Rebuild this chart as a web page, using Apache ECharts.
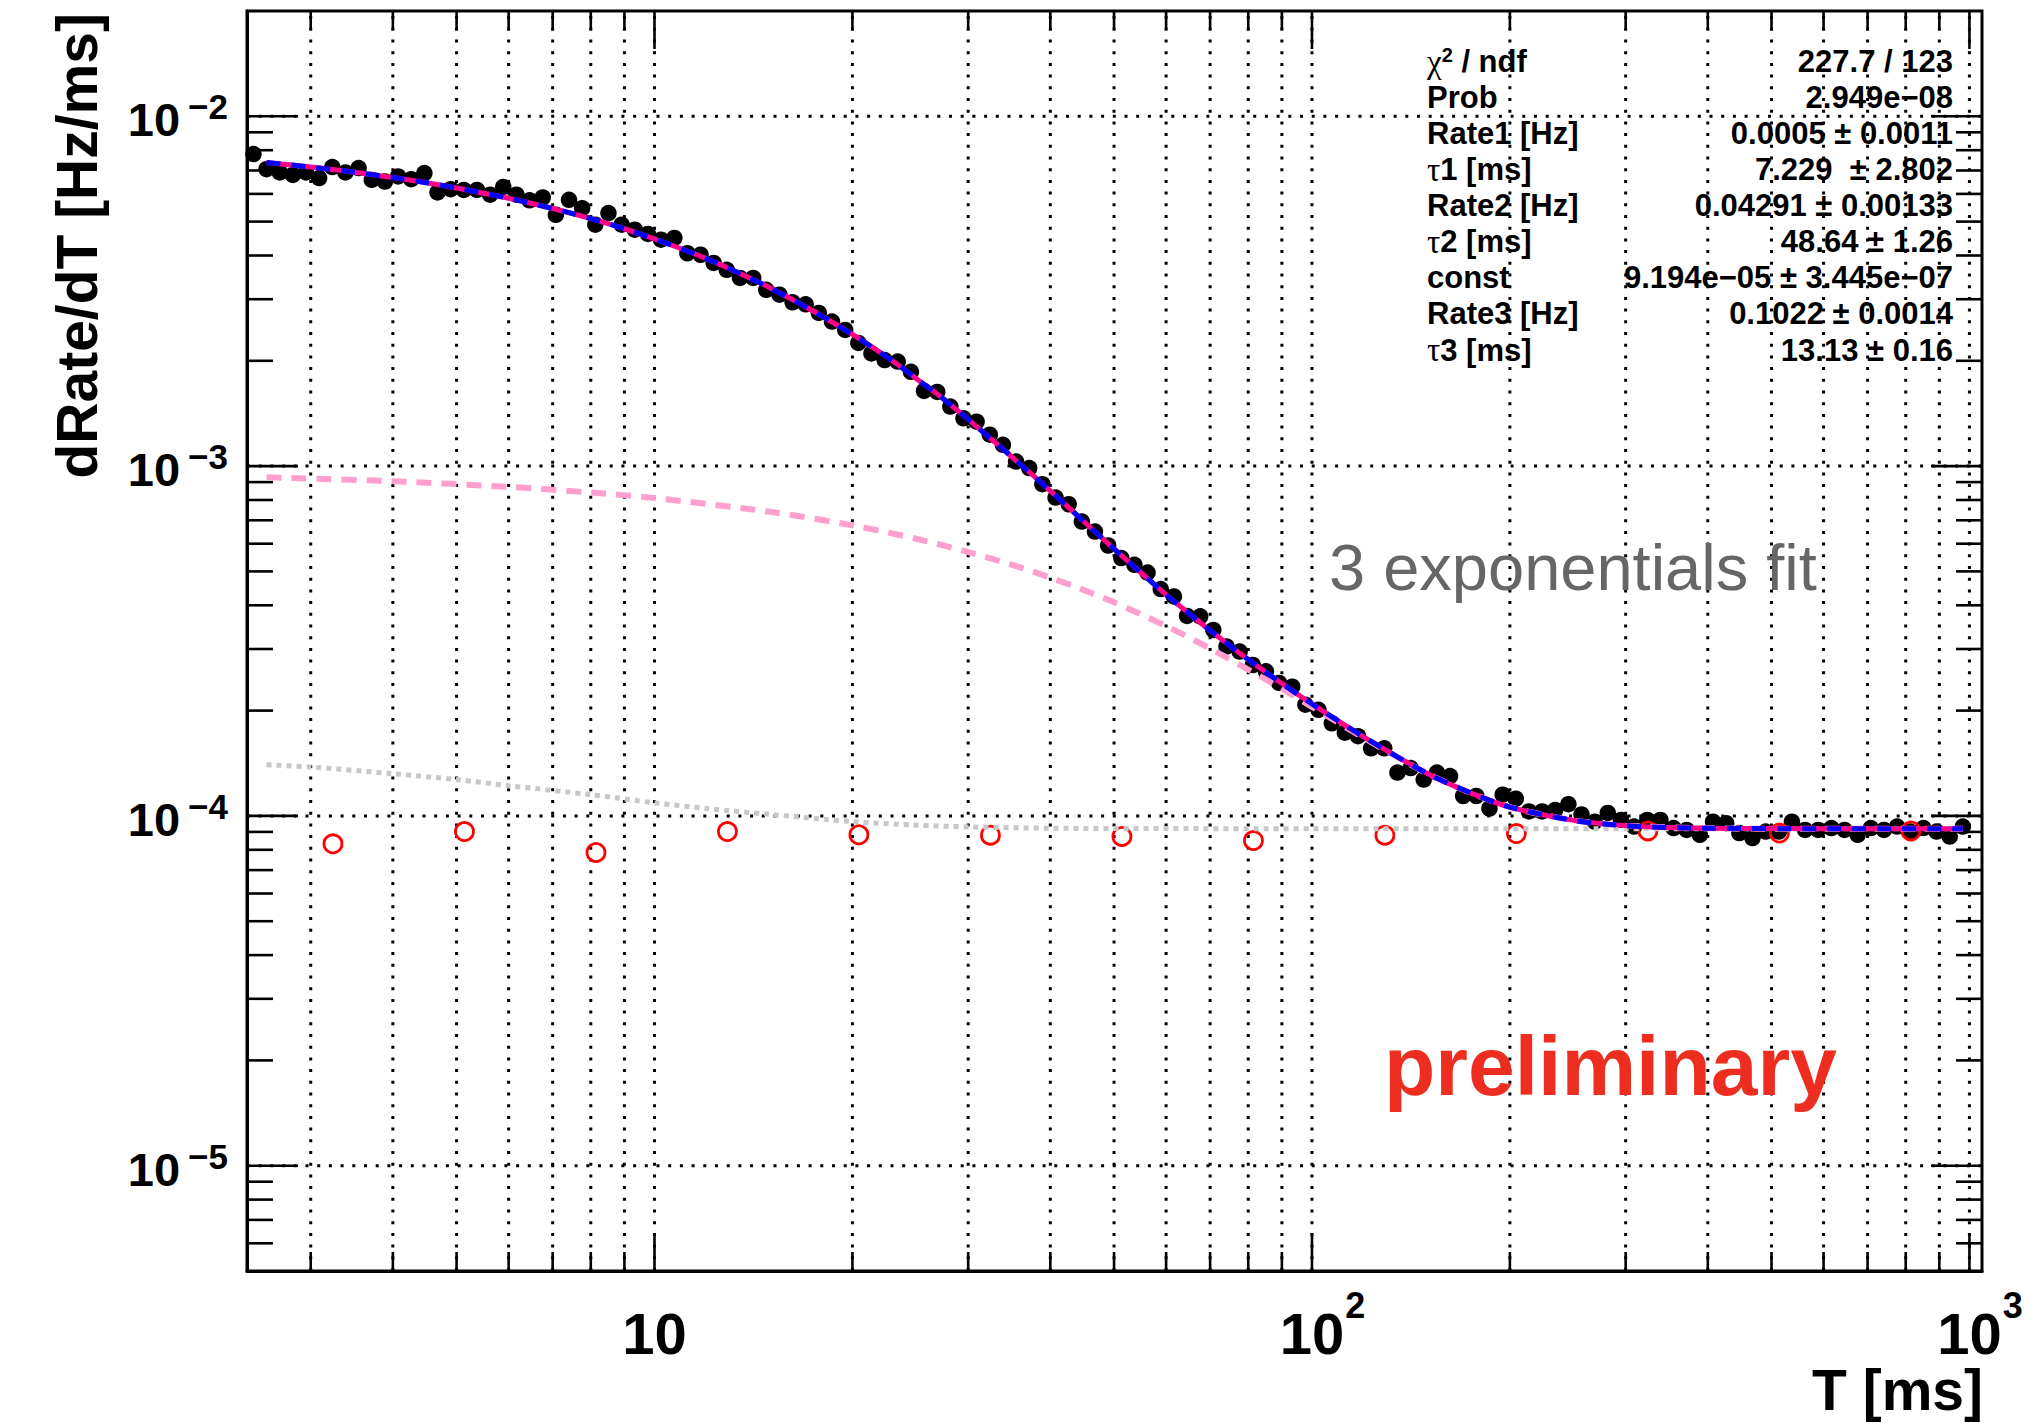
<!DOCTYPE html>
<html>
<head>
<meta charset="utf-8">
<title>dRate/dT vs T</title>
<script src="https://cdn.jsdelivr.net/npm/echarts@6.0.0/dist/echarts.min.js"></script>
<style>
html, body { margin: 0; padding: 0; background: #ffffff; }
#chart { width: 2039px; height: 1423px; }
</style>
</head>
<body>
<div id="chart"></div>
<script>
// ---------------- data ----------------
// histogram bin centres T [ms]
const T = [
  2.455, 2.570, 2.692, 2.818, 2.951, 3.090, 3.236, 3.388, 3.548, 3.715,
  3.890, 4.074, 4.266, 4.467, 4.677, 4.898, 5.129, 5.370, 5.623, 5.888,
  6.166, 6.457, 6.761, 7.079, 7.413, 7.762, 8.128, 8.511, 8.913, 9.333,
  9.772, 10.23, 10.72, 11.22, 11.75, 12.30, 12.88, 13.49, 14.13, 14.79,
  15.49, 16.22, 16.98, 17.78, 18.62, 19.50, 20.42, 21.38, 22.39, 23.44,
  24.55, 25.70, 26.92, 28.18, 29.51, 30.90, 32.36, 33.88, 35.48, 37.15,
  38.90, 40.74, 42.66, 44.67, 46.77, 48.98, 51.29, 53.70, 56.23, 58.88,
  61.66, 64.57, 67.61, 70.79, 74.13, 77.62, 81.28, 85.11, 89.13, 93.33,
  97.72, 102.3, 107.2, 112.2, 117.5, 123.0, 128.8, 134.9, 141.3, 147.9,
  154.9, 162.2, 169.8, 177.8, 186.2, 195.0, 204.2, 213.8, 223.9, 234.4,
  245.5, 257.0, 269.2, 281.8, 295.1, 309.0, 323.6, 338.8, 354.8, 371.5,
  389.0, 407.4, 426.6, 446.7, 467.7, 489.8, 512.9, 537.0, 562.3, 588.8,
  616.6, 645.7, 676.1, 707.9, 741.3, 776.2, 812.8, 851.1, 891.3, 933.3,
  977.2
];
// dRate/dT [Hz/ms] for each bin (black points)
const rate = [
  7.80e-3, 7.06e-3, 6.91e-3, 6.80e-3, 6.91e-3, 6.66e-3, 7.16e-3, 6.91e-3, 7.11e-3, 6.58e-3,
  6.51e-3, 6.73e-3, 6.61e-3, 6.88e-3, 6.06e-3, 6.19e-3, 6.16e-3, 6.16e-3, 5.97e-3, 6.28e-3,
  5.97e-3, 5.75e-3, 5.86e-3, 5.23e-3, 5.77e-3, 5.46e-3, 4.90e-3, 5.29e-3, 4.90e-3, 4.74e-3,
  4.61e-3, 4.44e-3, 4.49e-3, 4.06e-3, 4.02e-3, 3.81e-3, 3.64e-3, 3.45e-3, 3.45e-3, 3.19e-3,
  3.09e-3, 2.94e-3, 2.90e-3, 2.74e-3, 2.59e-3, 2.45e-3, 2.25e-3, 2.10e-3, 2.01e-3, 1.99e-3,
  1.86e-3, 1.64e-3, 1.63e-3, 1.48e-3, 1.37e-3, 1.34e-3, 1.23e-3, 1.15e-3, 1.03e-3, 9.87e-4,
  8.88e-4, 8.13e-4, 7.78e-4, 6.94e-4, 6.50e-4, 5.93e-4, 5.46e-4, 5.22e-4, 4.96e-4, 4.45e-4,
  4.24e-4, 3.73e-4, 3.72e-4, 3.40e-4, 3.05e-4, 2.95e-4, 2.70e-4, 2.59e-4, 2.40e-4, 2.34e-4,
  2.08e-4, 2.01e-4, 1.84e-4, 1.73e-4, 1.69e-4, 1.56e-4, 1.56e-4, 1.33e-4, 1.37e-4, 1.27e-4,
  1.33e-4, 1.30e-4, 1.14e-4, 1.14e-4, 1.05e-4, 1.15e-4, 1.12e-4, 1.03e-4, 1.03e-4, 1.04e-4,
  1.08e-4, 1.01e-4, 9.63e-5, 1.02e-4, 9.74e-5, 9.32e-5, 9.74e-5, 9.74e-5, 9.23e-5, 9.12e-5,
  8.83e-5, 9.63e-5, 9.53e-5, 8.93e-5, 8.64e-5, 9.02e-5, 9.02e-5, 9.63e-5, 9.12e-5, 9.12e-5,
  9.23e-5, 9.12e-5, 8.83e-5, 9.23e-5, 9.12e-5, 9.32e-5, 9.02e-5, 9.23e-5, 9.02e-5, 8.73e-5,
  9.32e-5
];
// red open circles (coarse reference points)
const refT = [3.243, 5.140, 8.147, 12.91, 20.46, 32.43, 51.40, 81.47, 129.1, 204.6, 324.3, 514.0, 814.7];
const refRate = [8.32e-5, 9.02e-5, 7.86e-5, 9.02e-5, 8.83e-5, 8.81e-5, 8.73e-5, 8.50e-5, 8.81e-5, 8.90e-5, 9.06e-5, 8.93e-5, 9.06e-5];
// total fit curve (magenta solid + blue dashed)
const fitT = [2.57, 3, 3.5, 4, 4.5, 5, 6, 7, 8, 9, 10, 12, 14, 15, 17, 20, 23, 25, 27, 30,
              35, 40, 45, 50, 55, 60, 65, 70, 80, 90, 100, 120, 150, 175, 200, 250, 300, 350, 400, 600, 977];
const fitRate = [7.38e-3, 7.16e-3, 6.92e-3, 6.68e-3, 6.46e-3, 6.24e-3, 5.83e-3, 5.45e-3, 5.10e-3, 4.77e-3,
                 4.46e-3, 3.92e-3, 3.44e-3, 3.23e-3, 2.85e-3, 2.38e-3, 2.00e-3, 1.78e-3, 1.60e-3, 1.36e-3,
                 1.06e-3, 8.50e-4, 6.94e-4, 5.80e-4, 4.95e-4, 4.29e-4, 3.79e-4, 3.39e-4, 2.80e-4, 2.39e-4,
                 2.09e-4, 1.68e-4, 1.32e-4, 1.16e-4, 1.06e-4, 9.71e-5, 9.38e-5, 9.26e-5, 9.22e-5, 9.19e-5, 9.19e-5];
// second exponential + constant (pink dashed)
const slowT = [2.57, 4, 6, 8, 10, 15, 20, 25, 30, 35, 40, 45, 50, 60, 70, 80, 90, 100, 120, 150, 175, 200, 250, 300, 400, 600, 977];
const slowRate = [9.29e-4, 9.05e-4, 8.72e-4, 8.40e-4, 8.10e-4, 7.40e-4, 6.77e-4, 6.20e-4, 5.68e-4, 5.22e-4,
                  4.80e-4, 4.42e-4, 4.08e-4, 3.49e-4, 3.01e-4, 2.62e-4, 2.31e-4, 2.05e-4, 1.67e-4, 1.32e-4,
                  1.16e-4, 1.06e-4, 9.71e-5, 9.38e-5, 9.22e-5, 9.19e-5, 9.19e-5];
// first exponential + constant (grey dotted)
const fastT = [2.57, 3, 4, 5, 6, 8, 10, 12, 15, 20, 25, 30, 40, 60, 100, 977];
const fastRate = [1.40e-4, 1.38e-4, 1.32e-4, 1.27e-4, 1.22e-4, 1.15e-4, 1.09e-4, 1.05e-4, 1.01e-4, 9.63e-5,
                  9.41e-5, 9.30e-5, 9.22e-5, 9.20e-5, 9.19e-5, 9.19e-5];

// axes
const xRange = [2.4, 1045];
const yRange = [5e-6, 0.02];
const xMajorTicks = [10, 100, 1000];
const xMinorTicks = [3, 4, 5, 6, 7, 8, 9, 20, 30, 40, 50, 60, 70, 80, 90, 200, 300, 400, 500, 600, 700, 800, 900];
const yMajorTicks = [1e-5, 1e-4, 1e-3, 1e-2];
const yMinorTicks = [6e-6, 7e-6, 8e-6, 9e-6,
                     2e-5, 3e-5, 4e-5, 5e-5, 6e-5, 7e-5, 8e-5, 9e-5,
                     2e-4, 3e-4, 4e-4, 5e-4, 6e-4, 7e-4, 8e-4, 9e-4,
                     2e-3, 3e-3, 4e-3, 5e-3, 6e-3, 7e-3, 8e-3, 9e-3];

// fit statistics box
const statsNames = ['{g|χ}{sp|2}{b| / ndf}', '{b|Prob}', '{b|Rate1 [Hz]}', '{g|τ}{b|1 [ms]}', '{b|Rate2 [Hz]}',
                    '{g|τ}{b|2 [ms]}', '{b|const}', '{b|Rate3 [Hz]}', '{g|τ}{b|3 [ms]}'];
const statsValues = ['227.7 / 123', '2.949e\u221208', '0.0005 ± 0.0011', '7.229  ± 2.802', '0.04291 ± 0.00133',
                     '48.64 ± 1.26', '9.194e\u221205 ± 3.445e\u221207', '0.1022 ± 0.0014', '13.13 ± 0.16'];

const xTitle = 'T [ms]';
const yTitle = 'dRate/dT [Hz/ms]';
const fitLabel = '3 exponentials fit';
const stampLabel = 'preliminary';

// ---------------- chart ----------------
const FONT = '"Liberation Sans", Arial, Helvetica, sans-serif';
const SERIF = '"Liberation Serif", "Times New Roman", serif';
const chart = echarts.init(document.getElementById('chart'), null, { renderer: 'svg', width: 2039, height: 1423 });

function pairs(xs, ys) { return xs.map(function (x, i) { return [x, ys[i]]; }); }

function renderFrame(params, api) {
  const p0 = api.coord([xRange[0], yRange[0]]);
  const p1 = api.coord([xRange[1], yRange[1]]);
  const L = p0[0], B = p0[1], R = p1[0], TP = p1[1];
  const ch = [];
  const dot = { stroke: '#000', lineWidth: 3, lineDash: [3, 8.7], fill: null };
  const solid = { stroke: '#000', lineWidth: 2.6, fill: null };
  const allX = xMajorTicks.concat(xMinorTicks);
  allX.forEach(function (v) {
    const x = api.coord([v, yRange[0]])[0];
    ch.push({ type: 'line', shape: { x1: x, y1: B, x2: x, y2: TP }, style: dot });
  });
  yMajorTicks.forEach(function (v) {
    const y = api.coord([xRange[0], v])[1];
    ch.push({ type: 'line', shape: { x1: L, y1: y, x2: R, y2: y }, style: dot });
  });
  xMajorTicks.forEach(function (v) {
    const x = api.coord([v, yRange[0]])[0];
    ch.push({ type: 'line', shape: { x1: x, y1: B, x2: x, y2: B - 38 }, style: solid });
    ch.push({ type: 'line', shape: { x1: x, y1: TP, x2: x, y2: TP + 38 }, style: solid });
  });
  xMinorTicks.forEach(function (v) {
    const x = api.coord([v, yRange[0]])[0];
    ch.push({ type: 'line', shape: { x1: x, y1: B, x2: x, y2: B - 19 }, style: solid });
    ch.push({ type: 'line', shape: { x1: x, y1: TP, x2: x, y2: TP + 19 }, style: solid });
  });
  yMajorTicks.forEach(function (v) {
    const y = api.coord([xRange[0], v])[1];
    ch.push({ type: 'line', shape: { x1: L, y1: y, x2: L + 51, y2: y }, style: solid });
    ch.push({ type: 'line', shape: { x1: R, y1: y, x2: R - 51, y2: y }, style: solid });
  });
  yMinorTicks.forEach(function (v) {
    const y = api.coord([xRange[0], v])[1];
    ch.push({ type: 'line', shape: { x1: L, y1: y, x2: L + 26, y2: y }, style: solid });
    ch.push({ type: 'line', shape: { x1: R, y1: y, x2: R - 26, y2: y }, style: solid });
  });
  return { type: 'group', children: ch };
}

const statsRich = {
  g: { fontFamily: SERIF, fontSize: 33, fill: '#000', color: '#000' },
  sp: { fontFamily: FONT, fontSize: 20, fontWeight: 'bold', fill: '#000', color: '#000', verticalAlign: 'top' },
  b: { fontFamily: FONT, fontSize: 31, fontWeight: 'bold', fill: '#000', color: '#000' }
};

const graphics = [];
statsNames.forEach(function (name, k) {
  const y = 61.7 + 36.04 * k;
  graphics.push({ type: 'text', x: 1427, y: y, z: 100, silent: true,
    style: { text: name, rich: statsRich, fontFamily: FONT, fontSize: 31, fontWeight: 'bold', fill: '#000', align: 'left', verticalAlign: 'middle' } });
  graphics.push({ type: 'text', x: 1953, y: y, z: 100, silent: true,
    style: { text: statsValues[k], fontFamily: FONT, fontSize: 31, fontWeight: 'bold', fill: '#000', align: 'right', verticalAlign: 'middle' } });
});
graphics.push({ type: 'text', x: 1329, y: 567, z: 100, silent: true,
  style: { text: fitLabel, fontFamily: FONT, fontSize: 65, fill: '#666666', align: 'left', verticalAlign: 'middle' } });
graphics.push({ type: 'text', x: 1384, y: 1066, z: 100, silent: true,
  style: { text: stampLabel, fontFamily: FONT, fontSize: 84, fontWeight: 'bold', fill: '#ec2d1f', align: 'left', verticalAlign: 'middle' } });
graphics.push({ type: 'text', x: 1983, y: 1390, z: 100, silent: true,
  style: { text: xTitle, fontFamily: FONT, fontSize: 57, fontWeight: 'bold', fill: '#000', align: 'right', verticalAlign: 'middle' } });
graphics.push({ type: 'text', x: 77, y: 13, rotation: Math.PI / 2, z: 100, silent: true,
  style: { text: yTitle, fontFamily: FONT, fontSize: 57, fontWeight: 'bold', fill: '#000', align: 'right', verticalAlign: 'middle' } });

const option = {
  animation: false,
  backgroundColor: '#ffffff',
  grid: { left: 247, right: 57, top: 11, bottom: 152, show: true, borderColor: '#000', borderWidth: 3, backgroundColor: 'transparent', containLabel: false },
  xAxis: {
    type: 'log', logBase: 10, min: xRange[0], max: xRange[1],
    axisLine: { show: true, onZero: false, lineStyle: { color: '#000', width: 3 } },
    axisTick: { show: false }, splitLine: { show: false },
    minorTick: { show: false }, minorSplitLine: { show: false },
    axisLabel: {
      customValues: xMajorTicks, margin: 16, color: '#000', hideOverlap: false,
      formatter: function (v) {
        const e = Math.round(Math.log10(v));
        return e === 1 ? '{p|}{m|10}{p|}' : '{p|}{m|10}{s|' + e + '}';
      },
      rich: {
        m: { fontFamily: FONT, fontWeight: 'bold', fontSize: 58, lineHeight: 58, verticalAlign: 'bottom', color: '#000' },
        s: { fontFamily: FONT, fontWeight: 'bold', fontSize: 36, lineHeight: 75, verticalAlign: 'top', width: 22, color: '#000' },
        p: { width: 22, lineHeight: 75 }
      }
    }
  },
  yAxis: {
    type: 'log', logBase: 10, min: yRange[0], max: yRange[1],
    axisLine: { show: true, onZero: false, lineStyle: { color: '#000', width: 3 } },
    axisTick: { show: false }, splitLine: { show: false },
    minorTick: { show: false }, minorSplitLine: { show: false },
    axisLabel: {
      customValues: yMajorTicks, margin: 19, color: '#000', hideOverlap: false,
      formatter: function (v) {
        const e = Math.round(Math.log10(v));
        return '{m|10}{s|\u2212' + (-e) + '}';
      },
      rich: {
        m: { fontFamily: FONT, fontWeight: 'bold', fontSize: 47, lineHeight: 47, verticalAlign: 'bottom', color: '#000' },
        s: { fontFamily: FONT, fontWeight: 'bold', fontSize: 35, lineHeight: 54, verticalAlign: 'top', padding: [0, 0, 0, 8], color: '#000' }
      }
    }
  },
  graphic: graphics,
  series: [
    { type: 'custom', name: 'frame', coordinateSystem: 'cartesian2d', silent: true, z: 1, clip: false,
      data: [[10, 1e-3]], renderItem: renderFrame },
    { type: 'scatter', name: 'data', data: pairs(T, rate), symbol: 'circle', symbolSize: 16.5,
      itemStyle: { color: '#000000', opacity: 1 }, z: 2, silent: true },
    { type: 'scatter', name: 'reference', data: pairs(refT, refRate), symbol: 'circle', symbolSize: 18,
      itemStyle: { color: 'rgba(0,0,0,0)', borderColor: '#ff0000', borderWidth: 2.8, opacity: 1 }, z: 3, silent: true },
    { type: 'line', name: 'exp1 + const', data: pairs(fastT, fastRate), symbol: 'none', smooth: 0.3,
      lineStyle: { color: '#c8c8c8', width: 5, type: [5, 5] }, z: 4, silent: true },
    { type: 'line', name: 'exp2 + const', data: pairs(slowT, slowRate), symbol: 'none', smooth: 0.3,
      lineStyle: { color: '#ff9fcf', width: 6, type: [15, 10] }, z: 5, silent: true },
    { type: 'line', name: 'fit', data: pairs(fitT, fitRate), symbol: 'none', smooth: 0.3,
      lineStyle: { color: '#ff0088', width: 5 }, z: 6, silent: true },
    { type: 'line', name: 'fit dashed', data: pairs(fitT, fitRate), symbol: 'none', smooth: 0.3,
      lineStyle: { color: '#0000ff', width: 5, type: [14, 11] }, z: 7, silent: true }
  ]
};
chart.setOption(option);
</script>
</body>
</html>
